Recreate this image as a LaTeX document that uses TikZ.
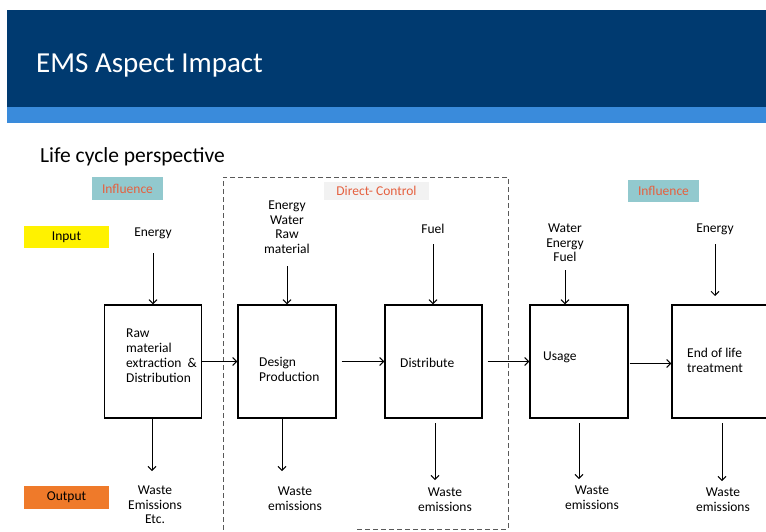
\documentclass[tikz,border=0pt]{standalone}
\usepackage{fontspec}
\setmainfont{Carlito}
\usetikzlibrary{arrows.meta}
\definecolor{hdrblue}{HTML}{003A70}
\definecolor{barblue}{HTML}{3A8BDB}
\definecolor{tealbg}{HTML}{92C9CE}
\definecolor{labred}{HTML}{E5603F}
\definecolor{graybg}{HTML}{F2F2F2}
\definecolor{outorange}{HTML}{EF7A2A}
\tikzset{
  box/.style={draw=black, line width=1.3pt, minimum width=97pt, minimum height=113pt, inner sep=0pt},
  lbl/.style={font=\fontsize{13.5}{14.5}\selectfont, align=center, inner sep=0pt},
  btxt/.style={font=\fontsize{13.5}{15}\selectfont, align=left, anchor=west, inner sep=0pt},
  tag/.style={font=\fontsize{13.5}{14}\selectfont, inner sep=0pt},
  arr/.style={line width=1pt, -{Straight Barb[length=4pt,width=8pt,line width=1pt]}},
}
\begin{document}
\begin{tikzpicture}[x=1pt,y=-1pt]
\useasboundingbox (0,0) rectangle (766,531);
\clip (0,0) rectangle (766,531);
% header
\fill[hdrblue] (7,10) rectangle (766,107);
\fill[barblue] (7,107) rectangle (766,123);
\node[anchor=west, text=white, font=\fontsize{29}{32}\selectfont, inner sep=0pt] (title) at (36,65) {EMS Aspect Impact};
\node[anchor=west, font=\fontsize{21.5}{24}\selectfont, inner sep=0pt] (sub) at (40,157) {Life cycle perspective};
% dashed control region
\draw[dashed, line width=1pt, gray!70!black, dash pattern=on 5pt off 3pt] (357,529) -- (508,529) -- (508,177) -- (223,177) -- (223,531);
% tags
\node[tag, fill=tealbg, text=labred, minimum width=71pt, minimum height=23pt] (inf1) at (127.5,188.5) {Influence};
\node[tag, fill=tealbg, text=labred, minimum width=71pt, minimum height=22pt] (inf2) at (663.5,191) {Influence};
\node[tag, fill=graybg, text=labred, minimum width=105pt, minimum height=18pt] (dc) at (376.5,191) {Direct- Control};
\node[tag, fill=yellow, minimum width=85pt, minimum height=22pt] (inp) at (66.5,237) {Input};
\node[tag, fill=outorange, minimum width=85pt, minimum height=23pt] (outp) at (66.5,497.5) {Output};
% boxes
\node[box] (b1) at (153,361.5) {};
\node[box, minimum width=98pt] (b2) at (287,361.5) {};
\node[box] (b3) at (433.5,361.5) {};
\node[box, minimum width=98pt] (b4) at (579,361.5) {};
\node[box, minimum width=98pt] (b5) at (721,361.5) {};
\node[btxt] (t1) at (126,355.5) {Raw\\material\\extraction \ \&\\Distribution};
\node[btxt] (t2) at (259,369) {Design\\Production};
\node[btxt] (t3) at (400,363) {Distribute};
\node[btxt] (t4) at (543,357) {Usage};
\node[btxt] (t5) at (687,360.5) {End of life\\treatment};
% inputs
\node[lbl] (e1) at (153,233) {Energy};
\node[lbl] (e2) at (287,227) {Energy\\Water\\Raw\\material};
\node[lbl] (e3) at (433,229) {Fuel};
\node[lbl] (e4) at (565,243) {Water\\Energy\\Fuel};
\node[lbl] (e5) at (715,229) {Energy};
\coordinate (s1) at (153,253);
\coordinate (s2) at (287,266);
\coordinate (s3) at (433,244);
\coordinate (s4) at (565,270);
\coordinate (s5) at (715,244);
\draw[arr] (s1) -- (b1.north);
\draw[arr] (s2) -- (b2.north);
\draw[arr] (s3) -- (s3 |- b3.north);
\draw[arr] (s4) -- (s4 |- b4.north);
\draw[arr] (s5) -- (715,296);
% flow
\draw[arr] (b1.east) -- (b2.west);
\draw[arr] ([xshift=5pt]b2.east) -- (b3.west);
\draw[arr] ([xshift=5pt]b3.east) -- (b4.west);
\draw[arr] ([xshift=1pt,yshift=-2pt]b4.east) -- ([yshift=-2pt]b5.west);
% outputs
\node[lbl] (o1) at (155,505) {Waste\\Emissions\\Etc.};
\node[lbl] (o2) at (295,498.5) {Waste\\emissions};
\node[lbl] (o3) at (445,499.5) {Waste\\emissions};
\node[lbl] (o4) at (592,497.5) {Waste\\emissions};
\node[lbl] (o5) at (723,499.5) {Waste\\emissions};
\coordinate (d1) at (152,471);
\coordinate (d2) at (282,471);
\coordinate (d3) at (435,480);
\coordinate (d4) at (579,479);
\coordinate (d5) at (722,481);
\draw[arr] (d1 |- b1.south) -- (d1);
\draw[arr] (d2 |- b2.south) -- (d2);
\draw[arr] (435,423) -- (d3);
\draw[arr] (579,423) -- (d4);
\draw[arr] (722,423) -- (d5);
\end{tikzpicture}
\end{document}
